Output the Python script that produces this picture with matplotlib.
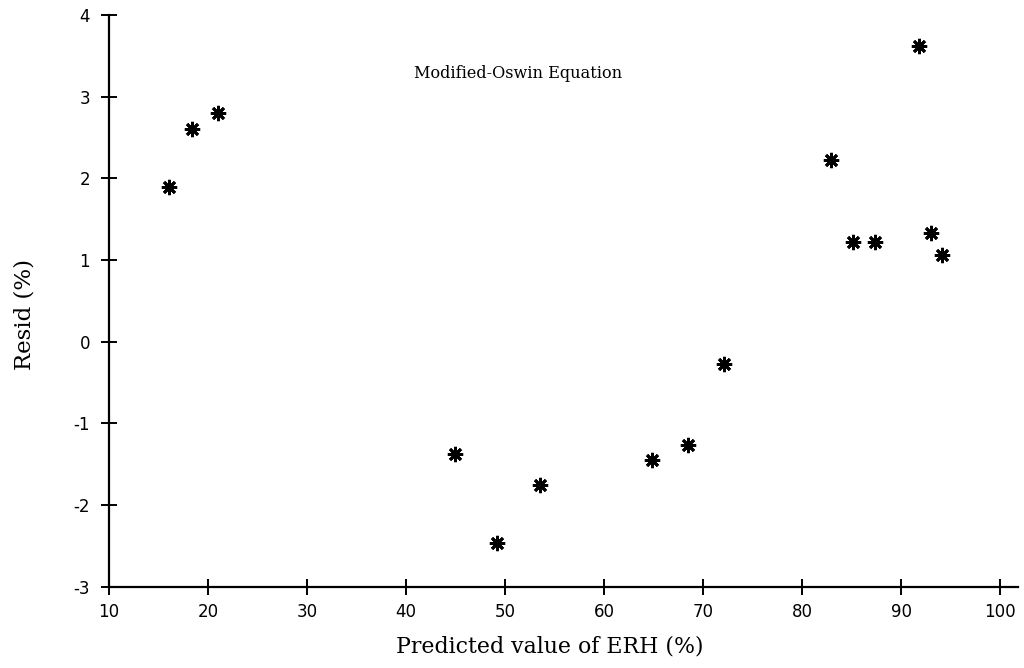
import numpy as np
import matplotlib
matplotlib.use("Agg")
import matplotlib.pyplot as plt

plt.rcParams["axes.unicode_minus"] = False

# predicted ERH (%) and residuals (%)
erh_pred = [16.1, 18.4, 21.0, 44.9, 49.2, 53.5, 64.8, 68.5, 72.1,
            82.9, 85.1, 87.3, 91.8, 93.0, 94.1]
resid = [1.9, 2.6, 2.8, -1.37, -2.46, -1.75, -1.45, -1.26, -0.27,
         2.22, 1.22, 1.22, 3.62, 1.33, 1.06]

x_ticks = [10, 20, 30, 40, 50, 60, 70, 80, 90, 100]
y_ticks = [-3, -2, -1, 0, 1, 2, 3, 4]

fig = plt.figure(figsize=(10.24, 6.68), dpi=100)
ax = fig.add_axes([0.1064, 0.1217, 0.888, 0.8558])

ax.plot(erh_pred, resid, linestyle="none", marker=(8, 2, 0),
        markersize=11, markeredgewidth=2.0, color="black")

ax.set_xlim(10, 101.8)
ax.set_ylim(-3, 4)
ax.set_xticks(x_ticks)
ax.set_yticks(y_ticks)

for side in ["top", "right"]:
    ax.spines[side].set_visible(False)
for side in ["left", "bottom"]:
    ax.spines[side].set_linewidth(1.6)

ax.tick_params(direction="inout", length=11, width=1.4,
               labelsize=12, colors="black")
ax.tick_params(axis="x", pad=6)
ax.tick_params(axis="y", pad=8)

ax.set_xlabel("Predicted value of ERH (%)", family="DejaVu Serif",
              fontsize=15.8)
ax.xaxis.set_label_coords(0.485, -0.086)
ax.set_ylabel("Resid (%)", family="DejaVu Serif", fontsize=16.5)
ax.yaxis.set_label_coords(-0.081, 0.476)
ax.text(51.3, 3.29, "Modified-Oswin Equation", family="DejaVu Serif",
        fontsize=11.6, ha="center", va="center")

fig.savefig("out.png", dpi=100)
